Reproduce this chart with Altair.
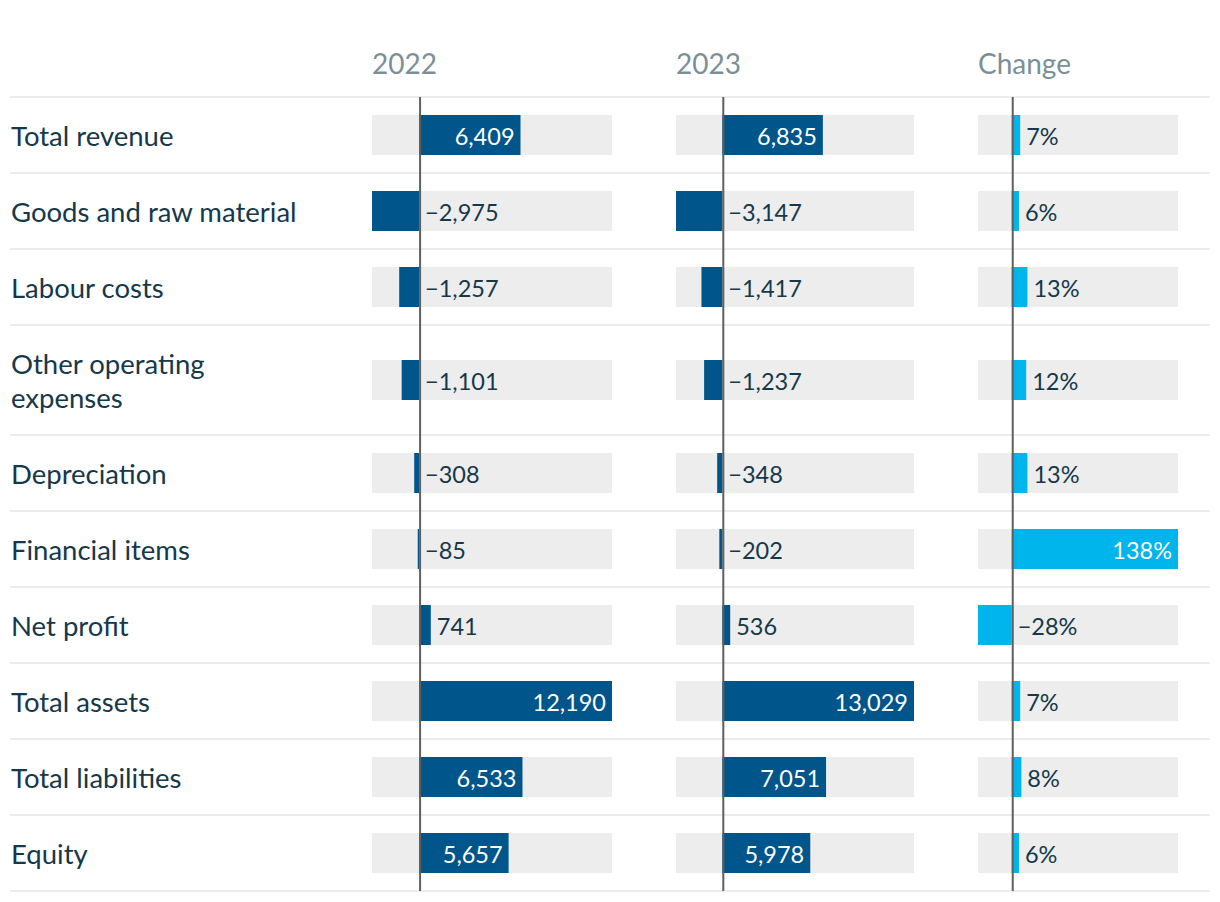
import textwrap
import altair as alt
import pandas as pd

# ---------------- data ----------------
categories = ["Total revenue", "Goods and raw material", "Labour costs",
              "Other operating expenses", "Depreciation", "Financial items",
              "Net profit", "Total assets", "Total liabilities", "Equity"]
values_2022 = [6409, -2975, -1257, -1101, -308, -85, 741, 12190, 6533, 5657]
values_2023 = [6835, -3147, -1417, -1237, -348, -202, 536, 13029, 7051, 5978]
change_pct = [7, 6, 13, 12, 13, 138, -28, 7, 8, 6]
headers = ["2022", "2023", "Change"]

# ---------------- style ----------------
FONT = "Lato"
DARK = "#15384a"
HEAD = "#7b8f98"
NAVY = "#00558a"
SKY = "#00b4ec"
TRACK = "#ededed"
RULE = "#ececec"
ZERO = "#5f5f5f"

H = 886          # chart height
TOP = 89         # first row separator
ROW_H = 76       # single-line row height
LINE_H = 34      # extra height per wrapped label line
BAR_H = 40

# ---------------- row layout derived from label wrapping ----------------
wrapped = [textwrap.wrap(c, 22) for c in categories]
tops = []
pos = TOP
for lines in wrapped:
    tops.append(pos)
    pos += ROW_H + LINE_H * (len(lines) - 1)
bottom = pos

rows = pd.DataFrame({"label": ["\n".join(l) for l in wrapped], "top": tops,
                     "nlines": [len(l) for l in wrapped]})
rows["bottom"] = rows["top"].shift(-1).fillna(bottom)
rows["mid"] = (rows["top"] + rows["bottom"]) / 2
rows["label_y"] = rows["mid"] - LINE_H * (rows["nlines"] - 1) / 2
rows["b0"] = rows["mid"] - BAR_H / 2
rows["b1"] = rows["mid"] + BAR_H / 2

yscale = alt.Scale(domain=[0, H], range=[0, H], nice=False, zero=False)


def fmt_num(v):
    return f"{v:,}".replace("-", "\u2212")


def fmt_pct(v):
    return f"{v}%".replace("-", "\u2212")


# ---------------- label column ----------------
seps = pd.DataFrame({"y": tops + [bottom]})
sep_layer = alt.Chart(seps).mark_rule(color=RULE, strokeWidth=2).encode(
    y=alt.Y("y:Q", scale=yscale, axis=None),
    x=alt.value(2), x2=alt.value(1202))
label_layer = alt.Chart(rows).mark_text(
    align="left", baseline="middle", font=FONT, fontSize=27.5, color=DARK,
    lineBreak="\n", lineHeight=34, dy=3).encode(
    x=alt.value(3),
    y=alt.Y("label_y:Q", scale=yscale, axis=None),
    text="label:N")
label_chart = alt.layer(sep_layer, label_layer).properties(width=364, height=H)


def column(values, labels, color, header, span, view_w):
    lo, hi = min(values), max(values)
    df = rows.copy()
    df["val"] = values
    df["zero"] = 0
    df["lo"] = lo
    df["hi"] = hi
    df["txt"] = labels
    df["inside"] = [bool(v > 0 and v / hi >= 0.25) for v in values]
    df["anchor"] = [max(v, 0) for v in values]
    xs = alt.Scale(domain=[lo, hi], range=[0, span], nice=False, zero=False)
    base = alt.Chart(df)
    track = base.mark_rect(color=TRACK).encode(
        x=alt.X("lo:Q", scale=xs, axis=None), x2="hi:Q",
        y=alt.Y("b0:Q", scale=yscale, axis=None), y2="b1:Q")
    bar = base.mark_rect(color=color).encode(
        x=alt.X("zero:Q", scale=xs, axis=None), x2="val:Q",
        y=alt.Y("b0:Q", scale=yscale, axis=None), y2="b1:Q")
    zero_df = pd.DataFrame({"x": [0], "y0": [TOP], "y1": [bottom]})
    zline = alt.Chart(zero_df).mark_rule(color=ZERO, strokeWidth=2, xOffset=1).encode(
        x=alt.X("x:Q", scale=xs, axis=None),
        y=alt.Y("y0:Q", scale=yscale, axis=None), y2="y1:Q")
    inside = base.transform_filter("datum.inside").mark_text(
        align="right", baseline="middle", dx=-6, dy=3, font=FONT,
        fontSize=23.5, color="white").encode(
        x=alt.X("val:Q", scale=xs, axis=None),
        y=alt.Y("mid:Q", scale=yscale, axis=None), text="txt:N")
    outside = base.transform_filter("!datum.inside").mark_text(
        align="left", baseline="middle", dx=6, dy=3, font=FONT,
        fontSize=23.5, color=DARK).encode(
        x=alt.X("anchor:Q", scale=xs, axis=None),
        y=alt.Y("mid:Q", scale=yscale, axis=None), text="txt:N")
    head = alt.Chart(pd.DataFrame({"t": [header]})).mark_text(
        align="left", baseline="alphabetic", font=FONT, fontSize=28,
        color=HEAD).encode(x=alt.value(0), y=alt.value(66), text="t:N")
    return alt.layer(track, bar, zline, inside, outside, head).properties(
        width=view_w, height=H)


c2022 = column(values_2022, [fmt_num(v) for v in values_2022], NAVY, headers[0], 240, 304)
c2023 = column(values_2023, [fmt_num(v) for v in values_2023], NAVY, headers[1], 238, 302)
cchg = column(change_pct, [fmt_pct(v) for v in change_pct], SKY, headers[2], 200, 234)

chart = alt.hconcat(label_chart, c2022, c2023, cchg, spacing=0, bounds="flush").resolve_scale(
    x="independent", y="independent").configure_view(stroke=None).properties(
    padding=0, background="white")

chart.save("out.html", embed_options={"renderer": "svg", "actions": False})
